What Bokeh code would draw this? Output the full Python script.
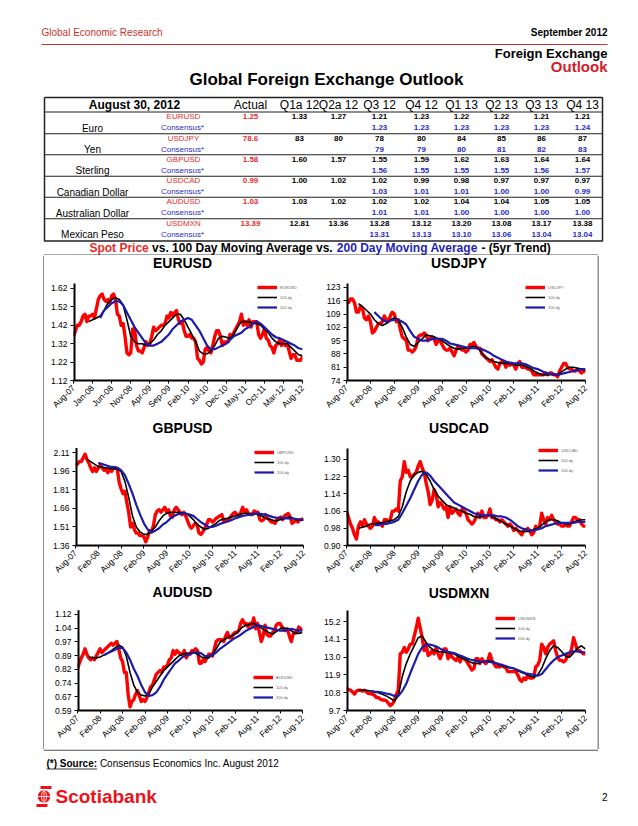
import math
from bokeh.plotting import figure
from bokeh.layouts import column, row
from bokeh.models import FixedTicker, Range1d, Legend, LegendItem, PrintfTickFormatter
from bokeh.embed import file_html
from bokeh.resources import INLINE
from bokeh.core.properties import value

FONT = value("Liberation Sans")
FONT_NAME = "Liberation Sans"
SPOT_RED = "#FF0000"
MA_BLUE = "#1C1CA8"
TXT_RED = "#E82B2B"
TXT_BLUE = "#2B2BC4"
HDR_RED = "#C9352D"

# ---------------- table data ----------------
CURRENCIES = ["Euro", "Yen", "Sterling", "Canadian Dollar", "Australian Dollar", "Mexican Peso"]
PAIRS = ["EURUSD", "USDJPY", "GBPUSD", "USDCAD", "AUDUSD", "USDMXN"]
COLUMNS = ["Actual", "Q1a 12", "Q2a 12", "Q3 12", "Q4 12", "Q1 13", "Q2 13", "Q3 13", "Q4 13"]
ACTUAL = ["1.25", "78.6", "1.58", "0.99", "1.03", "13.39"]
FORECAST = [
    ["1.33", "1.27", "1.21", "1.23", "1.22", "1.22", "1.21", "1.21"],
    ["83", "80", "78", "80", "84", "85", "86", "87"],
    ["1.60", "1.57", "1.55", "1.59", "1.62", "1.63", "1.64", "1.64"],
    ["1.00", "1.02", "1.02", "0.99", "0.98", "0.97", "0.97", "0.97"],
    ["1.03", "1.02", "1.02", "1.02", "1.04", "1.04", "1.05", "1.05"],
    ["12.81", "13.36", "13.28", "13.12", "13.20", "13.08", "13.17", "13.38"],
]
CONSENSUS = [
    ["1.23", "1.23", "1.23", "1.23", "1.23", "1.24"],
    ["79", "79", "80", "81", "82", "83"],
    ["1.56", "1.55", "1.55", "1.55", "1.56", "1.57"],
    ["1.03", "1.01", "1.01", "1.00", "1.00", "0.99"],
    ["1.01", "1.01", "1.00", "1.00", "1.00", "1.00"],
    ["13.31", "13.13", "13.10", "13.06", "13.04", "13.04"],
]

# ---------------- chart data (months after Aug-07) ----------------
SPOT_MONTHS = [k / 2 for k in range(121)]

EUR_SPOT = [
    1.36, 1.39, 1.42, 1.42, 1.44, 1.47, 1.48, 1.44, 1.47, 1.47,
    1.48, 1.46, 1.51, 1.56, 1.58, 1.59, 1.56, 1.55, 1.56, 1.54,
    1.58, 1.59, 1.56, 1.48, 1.47, 1.42, 1.43, 1.36, 1.27, 1.26,
    1.27, 1.40, 1.40, 1.31, 1.28, 1.28, 1.27, 1.30, 1.33, 1.31,
    1.32, 1.36, 1.41, 1.39, 1.40, 1.41, 1.42, 1.42, 1.43, 1.47,
    1.46, 1.49, 1.47, 1.49, 1.50, 1.45, 1.43, 1.44, 1.39, 1.36,
    1.36, 1.37, 1.35, 1.35, 1.33, 1.24, 1.23, 1.21, 1.22, 1.29,
    1.30, 1.28, 1.27, 1.31, 1.36, 1.39, 1.39, 1.36, 1.31, 1.33,
    1.33, 1.33, 1.37, 1.36, 1.38, 1.40, 1.42, 1.44, 1.48, 1.42,
    1.44, 1.42, 1.45, 1.41, 1.44, 1.44, 1.44, 1.37, 1.35, 1.37,
    1.40, 1.35, 1.34, 1.31, 1.30, 1.27, 1.31, 1.32, 1.34, 1.31,
    1.33, 1.31, 1.32, 1.28, 1.24, 1.26, 1.26, 1.23, 1.23, 1.23,
    1.25]
EUR_MA100_START = 4
EUR_MA100 = [
    1.44, 1.45, 1.46, 1.47, 1.50, 1.54, 1.56, 1.57, 1.56, 1.53,
    1.45, 1.36, 1.33, 1.32, 1.32, 1.31, 1.32, 1.34, 1.37, 1.39,
    1.42, 1.44, 1.46, 1.48, 1.48, 1.45, 1.41, 1.37, 1.33, 1.28,
    1.265, 1.265, 1.28, 1.31, 1.35, 1.36, 1.355, 1.35, 1.37, 1.41,
    1.44, 1.44, 1.44, 1.43, 1.43, 1.42, 1.40, 1.38, 1.35, 1.33,
    1.32, 1.32, 1.32, 1.30, 1.28, 1.26, 1.255]
EUR_MA200_START = 7
EUR_MA200 = [
    1.46, 1.50, 1.52, 1.54, 1.55, 1.55, 1.53, 1.49, 1.45, 1.41,
    1.38, 1.35, 1.32, 1.31, 1.31, 1.32, 1.33, 1.35, 1.37, 1.40,
    1.42, 1.44, 1.45, 1.46, 1.45, 1.42, 1.39, 1.35, 1.31, 1.29,
    1.29, 1.30, 1.31, 1.32, 1.34, 1.36, 1.37, 1.38, 1.40, 1.41,
    1.43, 1.44, 1.43, 1.41, 1.39, 1.37, 1.355, 1.35, 1.34, 1.33,
    1.32, 1.31, 1.295, 1.29]

JPY_SPOT = [
    116, 115, 117, 117, 115, 110, 110, 113, 112, 107,
    106, 108, 105, 99, 100, 102, 104, 104, 105, 108,
    106, 105, 108, 110, 109, 105, 106, 101, 97, 96,
    95, 90, 90, 89, 90, 92, 97, 98, 98, 99,
    98, 95, 96, 97, 96, 93, 95, 95, 93, 91,
    90, 90, 91, 89, 87, 90, 92, 91, 90, 90,
    89, 90, 93, 93, 94, 92, 91, 91, 88, 87,
    86, 85, 84, 85, 83, 81, 80, 83, 84, 84,
    81, 83, 82, 83, 82, 80, 83, 84, 81, 81,
    81, 80, 80, 79, 77, 77, 77, 77, 77, 77,
    78, 77, 78, 78, 77, 77, 76, 79, 81, 83,
    83, 81, 80, 80, 79, 79, 80, 79, 78, 79,
    78.6]
JPY_MA100_START = 3
JPY_MA100 = [
    114.5, 113, 111, 109, 106, 104, 103, 104, 106, 107,
    106, 102, 97, 93, 92, 94, 96, 98, 97.5, 97,
    96, 95, 93.5, 92, 91, 90.5, 91, 91, 91.5, 92,
    91, 88.5, 86, 85, 84, 83.5, 83, 83, 83, 82.5,
    82, 82, 81.5, 80.5, 79, 78, 77, 77, 77, 77,
    77, 78.5, 80, 81, 81, 80.5, 80, 79.5]
JPY_MA200_START = 7
JPY_MA200 = [
    110, 108, 106, 105, 105.5, 106, 106, 105, 103.5, 100,
    97, 96, 95, 95, 95.5, 96, 96, 96, 95, 93.5,
    93, 92.5, 92, 91.5, 91, 91, 91, 90.5, 89.5, 88.5,
    87, 86, 85, 84, 83.5, 83, 83, 83, 82.5, 81.5,
    80.5, 80, 79, 78, 77.5, 77.5, 77, 77.5, 78, 78.5,
    79, 79.5, 80, 80]

GBP_SPOT = [
    2.01, 2.02, 2.04, 2.04, 2.07, 2.10, 2.06, 2.03, 1.99, 1.96,
    1.99, 1.96, 1.99, 2.01, 1.99, 1.97, 1.98, 1.95, 1.98, 1.96,
    1.99, 1.99, 1.98, 1.87, 1.82, 1.78, 1.80, 1.71, 1.63, 1.51,
    1.54, 1.49, 1.46, 1.46, 1.44, 1.44, 1.43, 1.39, 1.43, 1.48,
    1.47, 1.52, 1.61, 1.64, 1.65, 1.63, 1.65, 1.67, 1.63, 1.65,
    1.60, 1.59, 1.65, 1.67, 1.65, 1.63, 1.61, 1.63, 1.60, 1.56,
    1.52, 1.50, 1.52, 1.54, 1.53, 1.46, 1.45, 1.47, 1.50, 1.53,
    1.57, 1.57, 1.55, 1.56, 1.58, 1.59, 1.60, 1.61, 1.56, 1.57,
    1.56, 1.58, 1.60, 1.62, 1.63, 1.61, 1.60, 1.63, 1.67, 1.63,
    1.65, 1.62, 1.61, 1.61, 1.64, 1.63, 1.63, 1.57, 1.56, 1.57,
    1.61, 1.58, 1.57, 1.55, 1.55, 1.54, 1.57, 1.58, 1.59, 1.57,
    1.60, 1.61, 1.62, 1.59, 1.54, 1.55, 1.57, 1.55, 1.57, 1.57,
    1.58]
GBP_MA100_START = 3
GBP_MA100 = [
    2.06, 2.04, 2.02, 2.00, 1.995, 1.99, 1.985, 1.98, 1.98, 1.96,
    1.88, 1.75, 1.60, 1.51, 1.47, 1.45, 1.45, 1.48, 1.51, 1.56,
    1.60, 1.62, 1.63, 1.63, 1.63, 1.625, 1.62, 1.60, 1.57, 1.53,
    1.51, 1.49, 1.50, 1.52, 1.54, 1.565, 1.575, 1.58, 1.59, 1.60,
    1.61, 1.62, 1.62, 1.62, 1.62, 1.61, 1.60, 1.58, 1.575, 1.565,
    1.56, 1.57, 1.58, 1.59, 1.585, 1.57, 1.565, 1.565]
GBP_MA200_START = 6
GBP_MA200 = [
    2.03, 2.02, 2.01, 2.00, 1.995, 1.99, 1.97, 1.93, 1.86, 1.78,
    1.69, 1.61, 1.54, 1.49, 1.465, 1.48, 1.50, 1.53, 1.55, 1.58,
    1.60, 1.615, 1.62, 1.62, 1.61, 1.60, 1.575, 1.55, 1.53, 1.51,
    1.51, 1.52, 1.535, 1.545, 1.555, 1.565, 1.58, 1.59, 1.60, 1.605,
    1.61, 1.615, 1.62, 1.615, 1.61, 1.60, 1.59, 1.585, 1.585, 1.58,
    1.58, 1.58, 1.575, 1.57, 1.57]

CAD_SPOT = [
    1.06, 1.03, 1.00, 0.98, 0.95, 0.93, 0.99, 1.01, 0.99, 1.02,
    1.00, 0.99, 0.98, 0.99, 1.03, 1.01, 1.01, 1.00, 0.99, 1.02,
    1.02, 1.01, 1.02, 1.06, 1.06, 1.07, 1.06, 1.20, 1.22, 1.29,
    1.24, 1.25, 1.22, 1.22, 1.23, 1.24, 1.27, 1.29, 1.26, 1.24,
    1.19, 1.15, 1.09, 1.11, 1.16, 1.14, 1.08, 1.10, 1.09, 1.07,
    1.08, 1.03, 1.08, 1.05, 1.06, 1.07, 1.05, 1.04, 1.07, 1.06,
    1.05, 1.02, 1.01, 1.00, 1.01, 1.03, 1.05, 1.03, 1.06, 1.03,
    1.03, 1.04, 1.07, 1.03, 1.03, 1.02, 1.02, 1.01, 1.02, 1.01,
    1.00, 0.99, 1.00, 0.99, 0.97, 0.98, 0.97, 0.96, 0.95, 0.97,
    0.97, 0.98, 0.97, 0.95, 0.96, 0.99, 0.98, 0.99, 1.05, 1.02,
    1.00, 1.03, 1.02, 1.04, 1.02, 1.01, 1.00, 1.00, 0.99, 0.99,
    1.00, 0.99, 0.99, 1.01, 1.03, 1.03, 1.02, 1.02, 1.00, 0.99,
    0.99]
CAD_MA100_START = 3
CAD_MA100 = [
    0.98, 0.985, 0.99, 1.00, 1.00, 1.005, 1.005, 1.01, 1.015, 1.02,
    1.035, 1.08, 1.15, 1.20, 1.23, 1.24, 1.245, 1.23, 1.20, 1.16,
    1.13, 1.11, 1.09, 1.08, 1.075, 1.065, 1.06, 1.05, 1.045, 1.035,
    1.03, 1.035, 1.04, 1.04, 1.03, 1.02, 1.01, 1.00, 0.99, 0.98,
    0.97, 0.965, 0.965, 0.965, 0.975, 0.98, 0.995, 1.01, 1.02, 1.02,
    1.015, 1.005, 1.00, 1.00, 1.01, 1.015, 1.02, 1.02]
CAD_MA200_START = 7
CAD_MA200 = [
    0.995, 0.995, 1.00, 1.00, 1.005, 1.01, 1.02, 1.05, 1.085, 1.12,
    1.16, 1.20, 1.23, 1.24, 1.225, 1.20, 1.18, 1.16, 1.14, 1.12,
    1.10, 1.09, 1.08, 1.07, 1.06, 1.05, 1.045, 1.04, 1.04, 1.04,
    1.04, 1.035, 1.035, 1.03, 1.02, 1.005, 0.99, 0.98, 0.975, 0.97,
    0.97, 0.975, 0.98, 0.99, 0.995, 1.00, 1.005, 1.005, 1.005, 1.005,
    1.005, 1.01, 1.01, 1.01]

AUD_SPOT = [
    0.82, 0.85, 0.88, 0.90, 0.93, 0.90, 0.88, 0.87, 0.88, 0.87,
    0.89, 0.91, 0.93, 0.91, 0.92, 0.93, 0.94, 0.95, 0.96, 0.95,
    0.96, 0.97, 0.93, 0.88, 0.86, 0.80, 0.80, 0.68, 0.61, 0.64,
    0.65, 0.68, 0.70, 0.67, 0.64, 0.65, 0.64, 0.66, 0.69, 0.72,
    0.73, 0.76, 0.79, 0.80, 0.81, 0.80, 0.83, 0.83, 0.84, 0.87,
    0.88, 0.92, 0.90, 0.92, 0.91, 0.90, 0.90, 0.92, 0.88, 0.90,
    0.90, 0.92, 0.92, 0.93, 0.92, 0.85, 0.85, 0.87, 0.86, 0.88,
    0.90, 0.90, 0.89, 0.93, 0.97, 0.98, 0.98, 0.98, 0.97, 1.00,
    1.02, 0.99, 0.99, 1.01, 1.02, 1.02, 1.03, 1.07, 1.09, 1.07,
    1.07, 1.05, 1.07, 1.06, 1.10, 1.04, 1.07, 1.02, 0.97, 1.00,
    1.06, 1.01, 1.00, 1.00, 1.02, 1.03, 1.06, 1.07, 1.07, 1.05,
    1.04, 1.03, 1.04, 1.00, 0.97, 1.01, 1.02, 1.02, 1.05, 1.04,
    1.03]
AUD_MA100_START = 3
AUD_MA100 = [
    0.885, 0.88, 0.88, 0.885, 0.895, 0.905, 0.92, 0.935, 0.95, 0.94,
    0.89, 0.80, 0.73, 0.69, 0.675, 0.67, 0.68, 0.72, 0.75, 0.78,
    0.81, 0.83, 0.85, 0.87, 0.89, 0.90, 0.905, 0.905, 0.91, 0.90,
    0.885, 0.88, 0.88, 0.90, 0.93, 0.965, 0.98, 0.99, 1.00, 1.01,
    1.03, 1.05, 1.06, 1.065, 1.07, 1.06, 1.045, 1.03, 1.02, 1.01,
    1.025, 1.04, 1.045, 1.04, 1.03, 1.015, 1.015, 1.02]
AUD_MA200_START = 7
AUD_MA200 = [
    0.895, 0.905, 0.915, 0.925, 0.935, 0.935, 0.91, 0.87, 0.82, 0.78,
    0.73, 0.69, 0.67, 0.675, 0.69, 0.72, 0.76, 0.79, 0.82, 0.85,
    0.865, 0.885, 0.895, 0.90, 0.91, 0.91, 0.905, 0.89, 0.89, 0.895,
    0.91, 0.93, 0.945, 0.96, 0.975, 0.99, 1.00, 1.015, 1.03, 1.04,
    1.05, 1.06, 1.055, 1.05, 1.045, 1.04, 1.035, 1.03, 1.03, 1.035,
    1.04, 1.035, 1.03, 1.03]

MXN_SPOT = [
    11.1, 11.0, 10.95, 10.85, 10.72, 10.9, 10.95, 10.95, 10.9, 10.95,
    10.85, 10.75, 10.75, 10.7, 10.65, 10.5, 10.5, 10.4, 10.35, 10.35,
    10.3, 10.15, 10.0, 10.1, 10.3, 10.7, 10.95, 13.2, 13.3, 13.6,
    13.3, 13.5, 13.8, 13.8, 14.3, 14.8, 15.4, 14.8, 14.2, 13.4,
    13.8, 13.1, 13.2, 13.4, 13.2, 13.6, 13.2, 12.9, 13.2, 13.5,
    13.5, 12.9, 13.2, 13.0, 12.9, 12.8, 13.0, 12.7, 13.0, 12.9,
    12.8, 12.6, 12.4, 12.2, 12.3, 12.9, 12.9, 12.6, 12.9, 12.7,
    12.6, 12.8, 13.2, 12.8, 12.6, 12.4, 12.4, 12.4, 12.5, 12.4,
    12.35, 12.1, 12.1, 12.1, 12.1, 12.1, 11.9, 11.6, 11.5, 11.7,
    11.6, 11.9, 11.7, 11.7, 11.75, 12.4, 12.5, 12.8, 13.8, 13.6,
    13.2, 13.6, 13.8, 13.9, 14.0, 13.4, 13.0, 12.8, 12.8, 12.7,
    12.8, 13.1, 13.1, 13.5, 14.2, 13.8, 13.4, 13.4, 13.3, 13.2,
    13.2]
MXN_MA100_START = 3
MXN_MA100 = [
    10.95, 10.95, 10.95, 10.9, 10.85, 10.8, 10.7, 10.6, 10.45, 10.3,
    10.6, 11.8, 12.6, 13.2, 13.7, 14.2, 14.3, 13.9, 13.6, 13.4,
    13.35, 13.3, 13.3, 13.25, 13.2, 13.05, 12.95, 12.85, 12.7, 12.6,
    12.6, 12.7, 12.75, 12.75, 12.7, 12.55, 12.45, 12.4, 12.35, 12.3,
    12.15, 12.05, 11.95, 11.85, 11.75, 11.9, 12.3, 12.9, 13.4, 13.7,
    13.6, 13.35, 13.05, 13.0, 13.25, 13.55, 13.7, 13.5]
MXN_MA200_START = 6
MXN_MA200 = [
    10.9, 10.87, 10.85, 10.8, 10.75, 10.7, 10.6, 10.6, 10.9, 11.35,
    12.0, 12.6, 13.2, 13.6, 13.75, 13.78, 13.7, 13.6, 13.45, 13.35,
    13.3, 13.25, 13.15, 13.05, 12.95, 12.85, 12.8, 12.75, 12.7, 12.7,
    12.7, 12.65, 12.6, 12.5, 12.45, 12.35, 12.3, 12.2, 12.1, 12.0,
    11.95, 11.9, 11.85, 11.95, 12.25, 12.55, 12.8, 13.0, 13.1, 13.2,
    13.3, 13.35, 13.35, 13.3, 13.3]

X_TICKS_5 = list(range(0, 61, 5))
X_LABELS_5 = ["Aug-07", "Jan-08", "Jun-08", "Nov-08", "Apr-09", "Sep-09", "Feb-10",
              "Jul-10", "Dec-10", "May-11", "Oct-11", "Mar-12", "Aug-12"]
X_TICKS_6 = list(range(0, 61, 6))
X_LABELS_6 = ["Aug-07", "Feb-08", "Aug-08", "Feb-09", "Aug-09", "Feb-10",
              "Aug-10", "Feb-11", "Aug-11", "Feb-12", "Aug-12"]

EUR_YTICKS = [1.12, 1.22, 1.32, 1.42, 1.52, 1.62]
JPY_YTICKS = [74, 81, 88, 95, 102, 109, 116, 123]
GBP_YTICKS = [1.36, 1.51, 1.66, 1.81, 1.96, 2.11]
CAD_YTICKS = [0.90, 0.98, 1.06, 1.14, 1.22, 1.30]
AUD_YTICKS = [0.59, 0.6657, 0.7414, 0.8171, 0.8929, 0.9686, 1.0443, 1.12]
MXN_YTICKS = [9.7, 10.8, 11.9, 13.0, 14.1, 15.2]


def txt(p, xs, ys, texts, size, color="black", bold=False, align="left"):
    p.text(x=xs, y=ys, text=texts, text_font=FONT, text_font_size=size,
           text_color=color, text_font_style="bold" if bold else "normal",
           text_align=align, text_baseline="middle")


def canvas(w, h, x0, x1, y0, y1):
    p = figure(width=w, height=h, x_range=Range1d(x0, x1), y_range=Range1d(y1, y0),
               x_axis_type=None, y_axis_type=None, toolbar_location=None,
               output_backend="svg", min_border=0, outline_line_color=None)
    p.grid.visible = False
    return p


# ---------------- header + table (page pixel coordinates) ----------------
head = canvas(630, 255, 0, 630, 0, 255)
txt(head, [41], [32], ["Global Economic Research"], "10px", HDR_RED)
txt(head, [607], [32], ["September 2012"], "10px", "black", True, "right")
head.line([41, 607], [44, 44], line_color=HDR_RED, line_width=1)
txt(head, [607], [53], ["Foreign Exchange"], "13px", "black", True, "right")
txt(head, [607], [66], ["Outlook"], "15px", "#D3202A", True, "right")
txt(head, [326], [79], ["Global Foreign Exchange Outlook"], "17px", "black", True, "center")

TL, TR, TT, TB = 44, 602, 97, 240.5
ROW_TOPS = [111.5, 133.3, 154.3, 175.7, 196.7, 218.3]
COL_X = [250, 299, 338, 379, 421, 461, 501, 541, 582]
head.multi_line([[TL, TR]] * 6, [[y, y] for y in ROW_TOPS], line_color="#222222", line_width=1.1)
head.multi_line([[TL, TR, TR, TL, TL]], [[TT, TT, TB, TB, TT]], line_color="#222222", line_width=1.5)
txt(head, [134], [104.5], ["August 30, 2012"], "12px", "black", True, "center")
txt(head, COL_X, [104.5] * len(COLUMNS), COLUMNS, "12px", "black", False, "center")
for i, top in enumerate(ROW_TOPS):
    y1, y2 = top + 4.7, top + 15.5
    txt(head, [92], [y2 + 0.5], [CURRENCIES[i]], "10px", "black", False, "center")
    txt(head, [183], [y1], [PAIRS[i]], "8px", TXT_RED, False, "center")
    txt(head, [182], [y2], ["Consensus*"], "8px", TXT_BLUE, False, "center")
    txt(head, [COL_X[0]], [y1], [ACTUAL[i]], "8px", TXT_RED, True, "center")
    txt(head, COL_X[1:], [y1] * 8, FORECAST[i], "8px", "black", True, "center")
    txt(head, COL_X[3:], [y2] * 6, CONSENSUS[i], "8px", TXT_BLUE, True, "center")

# subtitle pieces (Arial metrics, 12px bold)
txt(head, [88.9], [247.5], ["Spot Price"], "12px", TXT_RED, True)
txt(head, [151.6], [247.5], ["vs. 100 Day Moving Average vs."], "12px", "black", True)
txt(head, [336.3], [247.5], ["200 Day Moving Average"], "12px", "#1F1FB4", True)
txt(head, [481.0], [247.5], ["- (5yr Trend)"], "12px", "black", True)
head.line([43.5, 597.5], [254.6, 254.6], line_color="#222222", line_width=1)


# ---------------- charts ----------------
def make_chart(title, spot, s100, v100, s200, v200, ylo, yaxis_top, yticks, yfmt,
               xticks, xlabels, w, h, borders, leg_loc, title_px):
    bl, br, bt, bb = borders
    frame_h = h - bt - bb
    frame_w = w - bl - br
    per_px = (yaxis_top - ylo) / frame_h
    y_end = ylo + (frame_h + bt) * per_px          # frame reaches the canvas top
    p = figure(width=w, height=h, x_range=Range1d(0, 60), y_range=Range1d(ylo, y_end),
               toolbar_location=None, output_backend="svg",
               min_border_left=bl, min_border_right=br, min_border_top=0, min_border_bottom=bb)
    p.outline_line_color = None
    p.grid.visible = False
    r1 = p.line(SPOT_MONTHS, spot, line_color=SPOT_RED, line_width=3.4, line_join="round")
    r2 = p.line(list(range(s100, 61)), v100, line_color="black", line_width=1.6, line_join="round")
    r3 = p.line(list(range(s200, 61)), v200, line_color=MA_BLUE, line_width=2.2, line_join="round")
    # y axis line only up to the axis top, like the original
    p.line([0, 0], [ylo, yaxis_top], line_color="black", line_width=4)
    # chart title, centred on the chart panel
    tx = (w / 2 - bl) / frame_w * 60
    ty = ylo + (frame_h + bt - title_px) * per_px
    p.text(x=[tx], y=[ty], text=[title], text_font=FONT, text_font_size="14px",
           text_font_style="bold", text_align="center", text_baseline="middle",
           text_color="black")
    for ax in (p.xaxis, p.yaxis):
        ax.axis_line_width = 2
        ax.axis_line_color = "black"
        ax.major_tick_line_color = "black"
        ax.major_tick_out = 3
        ax.major_tick_in = 0
        ax.minor_tick_out = 0
        ax.minor_tick_in = 0
        ax.major_label_text_font = FONT_NAME
        ax.major_label_text_font_size = "8.5px"
        ax.major_label_text_color = "black"
        ax.major_label_standoff = 3
    p.yaxis.axis_line_color = None
    p.yaxis.ticker = FixedTicker(ticks=yticks)
    p.yaxis.formatter = PrintfTickFormatter(format=yfmt)
    p.xaxis.ticker = FixedTicker(ticks=xticks)
    p.xaxis.major_label_overrides = dict(zip(xticks, xlabels))
    p.xaxis.major_label_orientation = math.pi / 4
    leg = Legend(items=[LegendItem(label=title, renderers=[r1]),
                        LegendItem(label="100 dy", renderers=[r2]),
                        LegendItem(label="200 dy", renderers=[r3])],
                 location=leg_loc, label_text_font=FONT_NAME, label_text_font_size="4px",
                 label_text_color="#666666", glyph_width=20, glyph_height=6,
                 label_height=6, label_standoff=3, spacing=4, padding=0, margin=0,
                 border_line_color=None, background_fill_alpha=0)
    p.add_layout(leg)
    return p


c1 = make_chart("EURUSD", EUR_SPOT, EUR_MA100_START, EUR_MA100, EUR_MA200_START, EUR_MA200,
                1.12, 1.647, EUR_YTICKS, "%.2f", X_TICKS_5, X_LABELS_5,
                276, 165, (29, 18, 28, 40), (184, 70), 7)
c2 = make_chart("USDJPY", JPY_SPOT, JPY_MA100_START, JPY_MA100, JPY_MA200_START, JPY_MA200,
                74, 125.1, JPY_YTICKS, "%d", X_TICKS_6, X_LABELS_6,
                277, 165, (26, 12, 28, 40), (179, 70), 7)
c3 = make_chart("GBPUSD", GBP_SPOT, GBP_MA100_START, GBP_MA100, GBP_MA200_START, GBP_MA200,
                1.36, 2.15, GBP_YTICKS, "%.2f", X_TICKS_6, X_LABELS_6,
                276, 165, (31, 17, 28, 38), (179, 70), 7.5)
c4 = make_chart("USDCAD", CAD_SPOT, CAD_MA100_START, CAD_MA100, CAD_MA200_START, CAD_MA200,
                0.90, 1.351, CAD_YTICKS, "%.2f", X_TICKS_6, X_LABELS_6,
                277, 165, (26, 12, 28, 40), (192, 72), 7.5)
c5 = make_chart("AUDUSD", AUD_SPOT, AUD_MA100_START, AUD_MA100, AUD_MA200_START, AUD_MA200,
                0.59, 1.142, AUD_YTICKS, "%.2f", X_TICKS_6, X_LABELS_6,
                276, 164, (33, 18, 25, 38), (176, 10), 7)
c6 = make_chart("USDMXN", MXN_SPOT, MXN_MA100_START, MXN_MA100, MXN_MA200_START, MXN_MA200,
                9.7, 15.88, MXN_YTICKS, "%.1f", X_TICKS_6, X_LABELS_6,
                277, 164, (26, 12, 25, 39), (149, 69), 7)

left_strip = canvas(44, 494, 0, 44, 255, 749)
left_strip.line([43.5, 43.5], [255, 749], line_color="#222222", line_width=1)
right_strip = canvas(33, 494, 597, 630, 255, 749)
right_strip.line([597.5, 597.5], [255, 749], line_color="#222222", line_width=1)

# ---------------- footer ----------------
foot = canvas(630, 69, 0, 630, 749, 818)
foot.line([43.5, 597.5], [749.6, 749.6], line_color="#222222", line_width=1)
txt(foot, [46], [763], ["(*) Source:"], "10px", "black", True)
foot.line([46, 96.5], [768.5, 768.5], line_color="black", line_width=0.8)
txt(foot, [99.4], [763], ["Consensus Economics Inc. August 2012"], "10px", "black")
SCOTIA = "#EC111A"
foot.quad(left=[40], right=[51], top=[785.5], bottom=[788.5], fill_color=SCOTIA, line_color=None)
foot.quad(left=[36], right=[47], top=[803.5], bottom=[806.5], fill_color=SCOTIA, line_color=None)
foot.circle(x=[43.5], y=[796], radius=6.2, fill_color=SCOTIA, line_color=None)
foot.ellipse(x=[43.5], y=[796], width=5, height=11, fill_color=None, line_color="white", line_width=0.8)
foot.line([37.5, 49.5], [796, 796], line_color="white", line_width=0.8)
foot.line([43.5, 43.5], [790, 802], line_color="white", line_width=0.8)
txt(foot, [55], [796], ["Scotiabank"], "19px", SCOTIA, True)
txt(foot, [607], [796], ["2"], "10px", "black", False, "right")

charts = column(row(c1, c2), row(c3, c4), row(c5, c6))
page = column(head, row(left_strip, charts, right_strip), foot)

open("out.html", "w").write(file_html(page, INLINE))
